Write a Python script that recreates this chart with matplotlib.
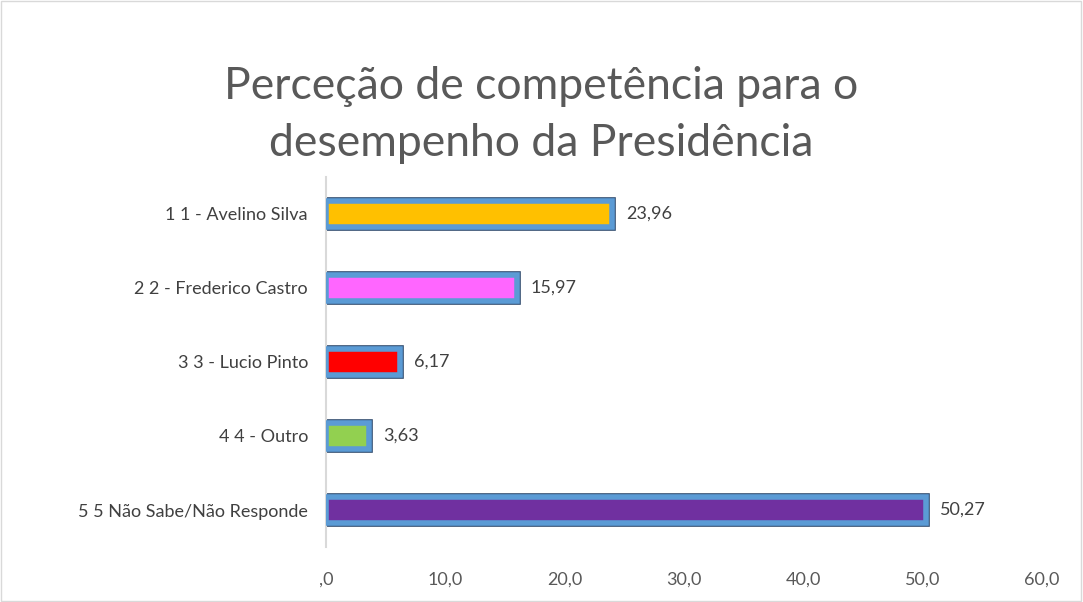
import matplotlib.pyplot as plt
from matplotlib.patches import Rectangle

# Data
categories = ["1 1 - Avelino Silva", "2 2 - Frederico Castro", "3 3 - Lucio Pinto",
              "4 4 - Outro", "5 5 Não Sabe/Não Responde"]
values = [23.96, 15.97, 6.17, 3.63, 50.27]
colors = ["#FFC000", "#FF66FF", "#FF0000", "#92D050", "#7030A0"]
xticks = [0, 10, 20, 30, 40, 50, 60]

plt.rcParams['font.family'] = ['Lato', 'DejaVu Sans']

fig = plt.figure(figsize=(10.83, 6.02), dpi=100)
ax = fig.add_axes([0.301, 1 - 547 / 602, 0.661, 370 / 602])

pos = list(range(len(categories)))
# outer dark outline, blue frame, then fill
ax.barh(pos, values, height=0.35, color=colors, edgecolor="#2E4A6E", linewidth=5.5, zorder=2)
ax.barh(pos, values, height=0.35, color=colors, edgecolor="#5B9BD5", linewidth=4, zorder=3)

for p, v in zip(pos, values):
    ax.text(v + 1.2, p, f"{v:.2f}".replace(".", ","), va="center", ha="left",
            fontsize=13, color="#404040")

ax.set_xlim(0, 60)
ax.set_ylim(len(categories) - 0.5, -0.5)
ax.set_yticks(pos)
ax.set_yticklabels(categories, fontsize=13, color="#404040")
ax.set_xticks(xticks)
ax.set_xticklabels([",0" if t == 0 else f"{t:.1f}".replace(".", ",") for t in xticks],
                   fontsize=13, color="#595959")
ax.tick_params(axis="y", length=0, pad=13)
ax.tick_params(axis="x", length=0, pad=18)
for s in ["top", "right", "bottom"]:
    ax.spines[s].set_visible(False)
ax.spines["left"].set_color("#D9D9D9")
ax.spines["left"].set_linewidth(1.5)

fig.text(0.5, 1 - 115 / 602, "Perceção de competência para o\ndesempenho da Presidência",
         ha="center", va="center", fontsize=32, color="#595959", linespacing=1.5)

fig.patches.append(Rectangle((0.001, 0.001), 0.997, 0.997, transform=fig.transFigure,
                             fill=False, edgecolor="#D9D9D9", linewidth=1))

fig.savefig("out.png", dpi=100)
